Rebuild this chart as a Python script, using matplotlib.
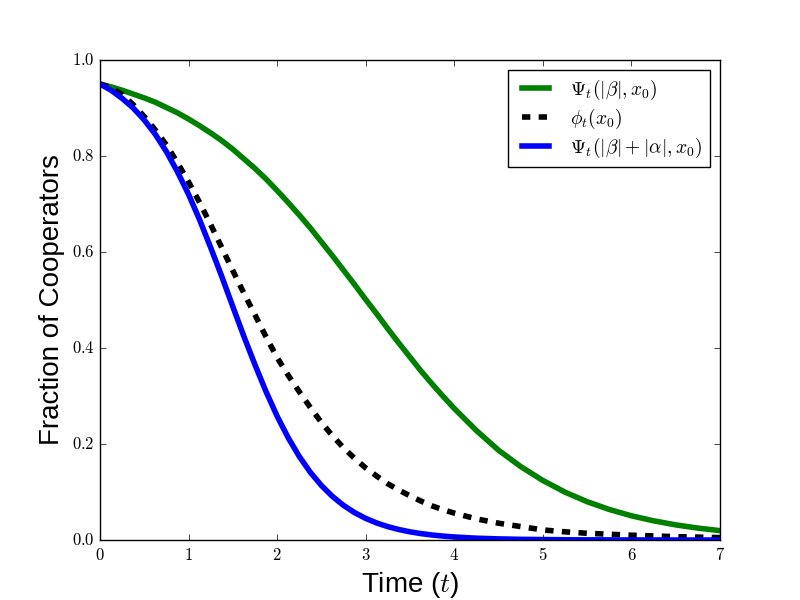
import matplotlib
matplotlib.use('Agg')
import matplotlib.pyplot as plt
from matplotlib.ticker import FuncFormatter

# values: every 0.125 in t up to 4, then every 0.25
time = [0.0, 0.125, 0.25, 0.375, 0.5, 0.625, 0.75, 0.875,
        1.0, 1.125, 1.25, 1.375, 1.5, 1.625, 1.75, 1.875,
        2.0, 2.125, 2.25, 2.375, 2.5, 2.625, 2.75, 2.875,
        3.0, 3.125, 3.25, 3.375, 3.5, 3.625, 3.75, 3.875,
        4.0, 4.25, 4.5, 4.75, 5.0, 5.25, 5.5, 5.75,
        6.0, 6.25, 6.5, 6.75, 7.0]

psi_beta = [0.950, 0.944, 0.937, 0.929, 0.921, 0.912, 0.901, 0.890,
            0.877, 0.863, 0.848, 0.832, 0.814, 0.794, 0.774, 0.752,
            0.728, 0.703, 0.677, 0.650, 0.621, 0.592, 0.562, 0.532,
            0.501, 0.471, 0.440, 0.410, 0.381, 0.352, 0.325, 0.299,
            0.274, 0.228, 0.187, 0.153, 0.124, 0.0997, 0.0798, 0.0636,
            0.0504, 0.040, 0.0315, 0.0248, 0.0195]

phi = [0.950, 0.942, 0.928, 0.907, 0.882, 0.854, 0.823, 0.786,
       0.746, 0.703, 0.657, 0.609, 0.561, 0.514, 0.469, 0.423,
       0.380, 0.343, 0.309, 0.276, 0.245, 0.217, 0.192, 0.170,
       0.150, 0.133, 0.117, 0.104, 0.092, 0.081, 0.071, 0.063,
       0.056, 0.044, 0.035, 0.028, 0.021, 0.017, 0.014, 0.012,
       0.010, 0.0085, 0.007, 0.006, 0.005]

psi_beta_alpha = [0.950, 0.937, 0.920, 0.900, 0.875, 0.845, 0.809, 0.767,
                  0.720, 0.667, 0.609, 0.549, 0.486, 0.424, 0.365, 0.309,
                  0.258, 0.213, 0.174, 0.141, 0.1135, 0.0907, 0.0721, 0.0570,
                  0.045, 0.0354, 0.0278, 0.0218, 0.0170, 0.0133, 0.0104, 0.0081,
                  0.0063, 0.0038, 0.0023, 0.0014, 0.0009, 0.0005, 0.0003, 0.0002,
                  0.0001, 0.0001, 0.0, 0.0, 0.0]

labels = [r'$\Psi_t(|\beta|, x_0)$', r'$\phi_t(x_0)$',
          r'$\Psi_t(|\beta| + |\alpha|, x_0)$']

plt.style.use('classic')
plt.rcParams['mathtext.fontset'] = 'cm'

fig = plt.figure(figsize=(8, 6), dpi=100)
ax = fig.add_subplot(111)

ax.plot(time, psi_beta, color='green', lw=4, label=labels[0])
ax.plot(time, phi, 'k--', lw=4, label=labels[1])
ax.plot(time, psi_beta_alpha, color='blue', lw=4, label=labels[2])

ax.set_xlim(0, 7)
ax.set_ylim(0, 1)
ax.xaxis.set_major_formatter(FuncFormatter(lambda v, p: r'$%d$' % v))
ax.yaxis.set_major_formatter(FuncFormatter(lambda v, p: r'$%.1f$' % v))
ax.tick_params(labelsize=12)

ax.set_xlabel(r'Time ($t$)', fontsize=20, family='Liberation Sans')
ax.set_ylabel('Fraction of Cooperators', fontsize=20, family='Liberation Sans')

# legend text is a bit bigger than the ticks
leg = ax.legend(loc='upper right', fontsize=14, labelspacing=0.25)

plt.savefig('out.png', dpi=100)
